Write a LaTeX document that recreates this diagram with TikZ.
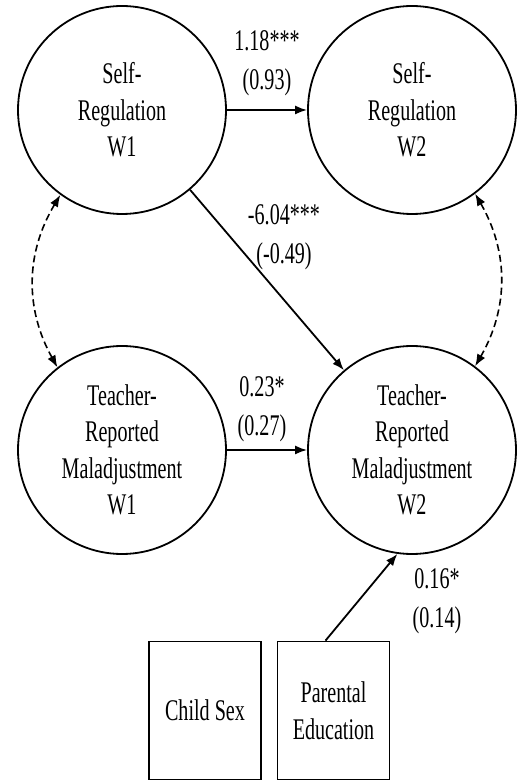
\documentclass[tikz,border=0pt]{standalone}
\usepackage{fontspec}
\setmainfont{Liberation Serif}[FakeStretch=0.67]
\usetikzlibrary{arrows.meta}

\tikzset{
  latent/.style={draw, circle, line width=1.8pt, minimum size=208pt, inner sep=0pt, align=center},
  observed/.style={draw, rectangle, line width=1.8pt, minimum width=112pt, minimum height=138pt, inner sep=0pt, align=center},
  coef/.style={align=center, inner sep=0pt, font=\fontsize{30}{39}\selectfont},
  regpath/.style={line width=1.8pt, -{Latex[length=12pt,width=9pt]}},
  covpath/.style={line width=1.6pt, dash pattern=on 7pt off 4pt, {Latex[length=12pt,width=9pt]}-{Latex[length=12pt,width=9pt]}}
}

\begin{document}
\begin{tikzpicture}[x=1pt, y=1pt, every node/.append style={font=\fontsize{30}{36.5}\selectfont}]
 \useasboundingbox (0,0) rectangle (522,782);

 % latent variables
 \node[latent] (SRone) at (122, 672) {Self-\\Regulation\\W1};
 \node[latent] (SRtwo) at (412, 672) {Self-\\Regulation\\W2};
 \node[latent] (TMone) at (122, 332) {Teacher-\\Reported\\Maladjustment\\W1};
 \node[latent] (TMtwo) at (412, 332) {Teacher-\\Reported\\Maladjustment\\W2};

 % covariates
 \node[observed] (Sex) at (205, 71.5) {Child Sex};
 \node[observed] (ParEd) at (333.5, 71.5) {Parental\\Education};

 % paths
 \draw[regpath] (SRone) -- (SRtwo);
 \draw[regpath] (SRone) -- (TMtwo);
 \draw[regpath] (TMone) -- (TMtwo);
 \draw[regpath] ([xshift=-8pt]ParEd.north) -- (TMtwo.262);

 % covariances
 \draw[covpath] (SRone.234) to[bend right=30] (TMone.128);
 \draw[covpath] (SRtwo.307) to[bend left=30] (TMtwo.53);

 % estimates
 \node[coef] (bSR) at (267, 719) {1.18***\\(0.93)};
 \node[coef] (bCross) at (284, 545) {-6.04***\\(-0.49)};
 \node[coef] (bTM) at (262, 373) {0.23*\\(0.27)};
 \node[coef] (bEd) at (437, 181) {0.16*\\(0.14)};
\end{tikzpicture}
\end{document}
